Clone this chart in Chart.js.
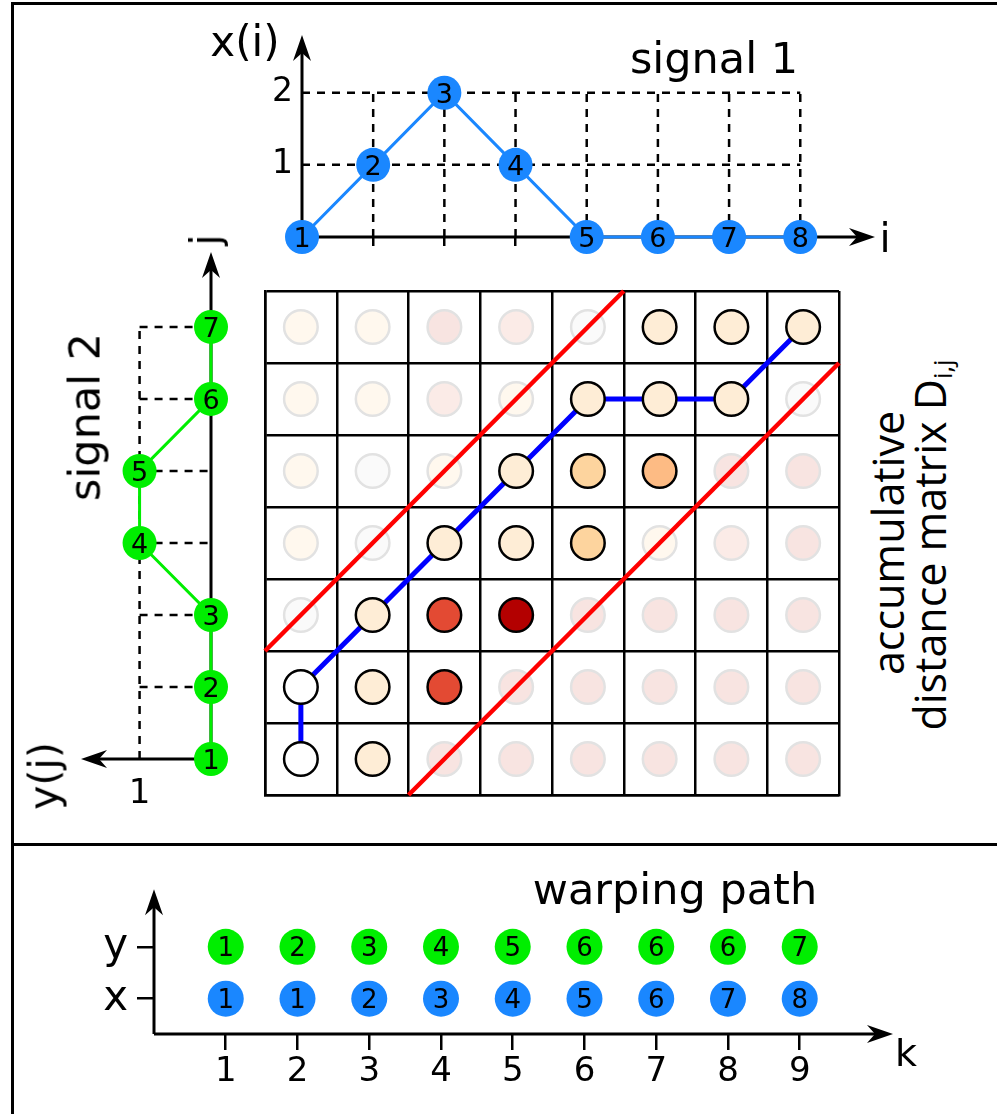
<!DOCTYPE html>
<html>
<head>
<meta charset="utf-8">
<title>Dynamic time warping</title>
<script src="https://cdn.jsdelivr.net/npm/chart.js@4.4.1/dist/chart.umd.min.js"></script>
<style>
  html, body { margin: 0; padding: 0; background: #fff; }
  body { position: relative; width: 997px; height: 1114px; overflow: hidden; font-family: "DejaVu Sans", sans-serif; color: #000; }
  canvas { position: absolute; }
  .rule { position: absolute; background: #000; }
  .txt { position: absolute; white-space: nowrap; line-height: 1; transform: translate(-50%, -50%); }
  .rot { transform: translate(-50%, -50%) rotate(-90deg); }
  .os { font-family: "Open Sans", sans-serif; }
  sub { font-size: 60%; vertical-align: -0.25em; }
</style>
</head>
<body>
<div class="rule" style="left:11px;top:2px;width:3px;height:1112px"></div>
<div class="rule" style="left:11px;top:2px;width:986px;height:3px"></div>
<div class="rule" style="left:11px;top:843px;width:986px;height:3px"></div>

<canvas id="sig1"></canvas>
<canvas id="sig2"></canvas>
<canvas id="matrix"></canvas>
<canvas id="path"></canvas>

<div class="txt" style="left:245px;top:42px;font-size:42px">x(i)</div>
<div class="txt" style="left:714px;top:58px;font-size:43px">signal 1</div>
<div class="txt" style="left:885px;top:238px;font-size:40px">i</div>
<div class="txt rot" style="left:205px;top:240px;font-size:40px">j</div>
<div class="txt rot" style="left:85px;top:417px;font-size:43px">signal 2</div>
<div class="txt rot" style="left:44px;top:776px;font-size:41px">y(j)</div>
<div class="txt rot os" style="left:887px;top:543px;font-size:43px">accumulative</div>
<div class="txt rot os" style="left:932px;top:545px;font-size:43px">distance matrix D<sub>i,j</sub></div>
<div class="txt" style="left:675px;top:889px;font-size:43px">warping path</div>
<div class="txt" style="left:906px;top:1053px;font-size:38px">k</div>

<script>
// signal 1 (top plot)
const sig1Index = [1, 2, 3, 4, 5, 6, 7, 8];
const sig1Values = [0, 1, 2, 1, 0, 0, 0, 0];
const sig1Ticks = [1, 2];

// signal 2 (left plot, drawn sideways)
const sig2Index = [1, 2, 3, 4, 5, 6, 7];
const sig2Values = [0, 0, 0, 1, 1, 0, 0];
const sig2Ticks = [1];

// accumulative distance matrix colour level, rows j = 1..7 (bottom up), cols i = 1..8
const cellLevel = [
    [0, 1, 4, 4, 4, 4, 4, 4],
    [0, 1, 4, 4, 4, 4, 4, 4],
    [0, 1, 4, 5, 4, 4, 4, 4],
    [1, 0, 1, 1, 2, 1, 3, 4],
    [1, 0, 1, 1, 2, 3, 4, 4],
    [1, 1, 3, 1, 1, 1, 1, 0],
    [1, 1, 4, 3, 0, 1, 1, 1]
];
// 1 = inside the warping window (solid), 0 = outside (faded)
const cellInWindow = [
    [1, 1, 0, 0, 0, 0, 0, 0],
    [1, 1, 1, 0, 0, 0, 0, 0],
    [0, 1, 1, 1, 0, 0, 0, 0],
    [0, 0, 1, 1, 1, 0, 0, 0],
    [0, 0, 0, 1, 1, 1, 0, 0],
    [0, 0, 0, 0, 1, 1, 1, 0],
    [0, 0, 0, 0, 0, 1, 1, 1]
];
// window borders (red lines) in cell units [i, j]
const bandUpper = [[0.5, 2.5], [5.5, 7.5]];
const bandLower = [[2.5, 0.5], [8.5, 6.5]];

// warping path
const pathK = [1, 2, 3, 4, 5, 6, 7, 8, 9];
const pathX = [1, 1, 2, 3, 4, 5, 6, 7, 8];
const pathY = [1, 2, 3, 4, 5, 6, 6, 6, 7];
const pathRowTicks = [1, 2];
const pathRowLabels = ['x', 'y'];

const BLUE = '#1a87ff';
const GREEN = '#00ee00';
const levelColors = ['#ffffff', '#feedd6', '#fdd49e', '#fdbb84', '#e34a33', '#b30000'];
const faintColors = ['#fafafa', '#fff8ee', '#fdf1ec', '#fbebe7', '#f8e4e1'];
const FONT = '"DejaVu Sans"';

// axis lines with arrow heads, drawn under the points
const arrowAxes = {
    id: 'arrowAxes',
    beforeDatasetsDraw(chart, args, opts) {
        const ctx = chart.ctx, xs = chart.scales.x, ys = chart.scales.y;
        (opts.list || []).forEach(a => {
            let x0, y0, x1, y1;
            if (a.dir === 'x') {
                y0 = y1 = ys.getPixelForValue(a.at);
                x0 = xs.getPixelForValue(a.from);
                x1 = xs.getPixelForValue(xs.max);
            } else {
                x0 = x1 = xs.getPixelForValue(a.at);
                y0 = ys.getPixelForValue(a.from);
                y1 = ys.getPixelForValue(ys.max);
            }
            const ang = Math.atan2(y1 - y0, x1 - x0);
            ctx.save();
            ctx.strokeStyle = '#000';
            ctx.lineWidth = 3;
            ctx.beginPath();
            ctx.moveTo(x0, y0);
            ctx.lineTo(x1 - 12 * Math.cos(ang), y1 - 12 * Math.sin(ang));
            ctx.stroke();
            ctx.translate(x1, y1);
            ctx.rotate(ang);
            ctx.beginPath();
            ctx.moveTo(0, 0);
            ctx.lineTo(-26, -9);
            ctx.lineTo(-18, 0);
            ctx.lineTo(-26, 9);
            ctx.closePath();
            ctx.fillStyle = '#000';
            ctx.fill();
            ctx.restore();
        });
    }
};

// index numbers written inside the circles
const pointNumbers = {
    id: 'pointNumbers',
    afterDatasetsDraw(chart) {
        const ctx = chart.ctx;
        chart.data.datasets.forEach((ds, di) => {
            if (!ds.numbers) return;
            const size = ds.numberSize || 26;
            ctx.save();
            ctx.font = size + 'px ' + FONT;
            ctx.fillStyle = '#000';
            ctx.textAlign = 'center';
            ctx.textBaseline = 'alphabetic';
            chart.getDatasetMeta(di).data.forEach((pt, k) => {
                ctx.fillText(String(ds.numbers[k]), pt.x, pt.y + size * 0.365);
            });
            ctx.restore();
        });
    }
};

Chart.register(arrowAxes, pointNumbers);

function dashed(points) {
    return {
        data: points, showLine: true, borderColor: '#000', borderWidth: 2.5,
        borderDash: [8, 7], pointRadius: 0, clip: false, order: 5
    };
}

function fixTicks(values) {
    return s => { s.ticks = values.map(v => ({ value: v })); };
}

// place a canvas so that its chart area lands on the given page box;
// the left / bottom margins are taken by the y / x scales (their labels live there)
function makeChart(id, area, pad, config) {
    const c = document.getElementById(id);
    c.width = area.r - area.l + pad.left + pad.right;
    c.height = area.b - area.t + pad.top + pad.bottom;
    c.style.left = (area.l - pad.left) + 'px';
    c.style.top = (area.t - pad.top) + 'px';
    c.style.width = c.width + 'px';
    c.style.height = c.height + 'px';
    const sc = config.options.scales;
    sc.x.afterFit = s => { s.height = pad.bottom; };
    sc.y.afterFit = s => { s.width = pad.left; };
    config.options = Object.assign({
        responsive: false,
        animation: false,
        events: [],
        layout: { autoPadding: false, padding: { left: 0, bottom: 0, top: pad.top, right: pad.right } }
    }, config.options);
    config.options.plugins = Object.assign({
        legend: { display: false },
        tooltip: { enabled: false }
    }, config.options.plugins);
    return new Chart(c, config);
}

const noGrid = { display: false, drawTicks: false };
const noBorder = { display: false };

// ---- signal 1 ----
const sig1Guides = [];
sig1Ticks.forEach(t => sig1Guides.push(dashed([
    { x: sig1Index[0], y: t }, { x: sig1Index[sig1Index.length - 1], y: t }])));
sig1Index.slice(1).forEach(i => sig1Guides.push(dashed([
    { x: i, y: 0 }, { x: i, y: Math.max(...sig1Ticks) }])));

makeChart('sig1', { l: 302, r: 875, t: 35, b: 237 }, { left: 50, right: 30, top: 30, bottom: 30 }, {
    type: 'scatter',
    data: {
        datasets: [{
            data: sig1Index.map((v, k) => ({ x: v, y: sig1Values[k] })),
            showLine: true, borderColor: BLUE, borderWidth: 3,
            pointRadius: 17, pointBackgroundColor: BLUE, pointBorderWidth: 0,
            numbers: sig1Index, numberSize: 27, clip: false, order: 0
        }, ...sig1Guides]
    },
    options: {
        scales: {
            x: {
                type: 'linear', min: 1, max: 9.05,
                afterBuildTicks: fixTicks(sig1Index),
                ticks: { display: false },
                grid: { display: true, drawOnChartArea: false, drawTicks: true, tickLength: 9, color: '#000', lineWidth: 2.5 },
                border: noBorder
            },
            y: {
                type: 'linear', min: 0, max: 2.8,
                afterBuildTicks: fixTicks(sig1Ticks),
                ticks: { color: '#000', padding: 9, font: { family: FONT, size: 33 } },
                grid: noGrid, border: noBorder
            }
        },
        plugins: { arrowAxes: { list: [{ dir: 'x', at: 0, from: 1 }, { dir: 'y', at: 1, from: 0 }] } }
    }
});

// ---- signal 2 ----
const sig2Guides = [];
sig2Ticks.forEach(t => sig2Guides.push(dashed([
    { x: t, y: sig2Index[0] }, { x: t, y: sig2Index[sig2Index.length - 1] }])));
sig2Index.slice(1).forEach(j => sig2Guides.push(dashed([
    { x: Math.max(...sig2Ticks), y: j }, { x: 0, y: j }])));

makeChart('sig2', { l: 81, r: 211, t: 252, b: 759 }, { left: 30, right: 30, top: 30, bottom: 70 }, {
    type: 'scatter',
    data: {
        datasets: [{
            data: sig2Index.map((j, k) => ({ x: sig2Values[k], y: j })),
            showLine: true, borderColor: GREEN, borderWidth: 3,
            pointRadius: 17, pointBackgroundColor: GREEN, pointBorderWidth: 0,
            numbers: sig2Index, numberSize: 27, clip: false, order: 0
        }, ...sig2Guides]
    },
    options: {
        scales: {
            x: {
                type: 'linear', min: 0, max: 1.82, reverse: true,
                afterBuildTicks: fixTicks(sig2Ticks),
                ticks: { color: '#000', padding: 15, font: { family: FONT, size: 34 } },
                grid: noGrid, border: noBorder
            },
            y: {
                type: 'linear', min: 1, max: 8.04,
                ticks: { display: false },
                grid: noGrid, border: noBorder
            }
        },
        plugins: { arrowAxes: { list: [{ dir: 'x', at: 1, from: 0 }, { dir: 'y', at: 0, from: 1 }] } }
    }
});

// ---- accumulative distance matrix ----
const cols = cellLevel[0].map((_, i) => i + 1);
const rows = cellLevel.map((_, j) => j + 1);
const solidPts = [], solidFill = [], faintPts = [], faintFill = [];
rows.forEach((j, r) => cols.forEach((i, c) => {
    if (cellInWindow[r][c]) {
        solidPts.push({ x: i, y: j });
        solidFill.push(levelColors[cellLevel[r][c]]);
    } else {
        faintPts.push({ x: i, y: j });
        faintFill.push(faintColors[Math.min(cellLevel[r][c], 4)]);
    }
}));

makeChart('matrix', { l: 265, r: 839, t: 291, b: 795 }, { left: 10, right: 10, top: 10, bottom: 10 }, {
    type: 'scatter',
    data: {
        datasets: [{
            data: solidPts, pointRadius: 16.8, pointBackgroundColor: solidFill,
            pointBorderColor: '#000', pointBorderWidth: 2.5, clip: false, order: 0
        }, {
            data: pathX.map((x, k) => ({ x: x, y: pathY[k] })),
            showLine: true, borderColor: '#0000ff', borderWidth: 5, pointRadius: 0, order: 1
        }, {
            data: bandUpper.map(p => ({ x: p[0], y: p[1] })),
            showLine: true, borderColor: '#ff0000', borderWidth: 4.5, pointRadius: 0, clip: false, order: 2
        }, {
            data: bandLower.map(p => ({ x: p[0], y: p[1] })),
            showLine: true, borderColor: '#ff0000', borderWidth: 4.5, pointRadius: 0, clip: false, order: 2
        }, {
            data: faintPts, pointRadius: 16.8, pointBackgroundColor: faintFill,
            pointBorderColor: '#e2e2e2', pointBorderWidth: 2.5, clip: false, order: 3
        }]
    },
    options: {
        scales: {
            x: {
                type: 'linear', min: 0.5, max: cols.length + 0.5,
                afterBuildTicks: fixTicks([0.5, ...cols.map(i => i + 0.5)]),
                ticks: { display: false },
                grid: { color: '#000', lineWidth: 2.5, drawTicks: false },
                border: { display: true, color: '#000', width: 2.5 }
            },
            y: {
                type: 'linear', min: 0.5, max: rows.length + 0.5,
                afterBuildTicks: fixTicks([0.5, ...rows.map(j => j + 0.5)]),
                ticks: { display: false },
                grid: { color: '#000', lineWidth: 2.5, drawTicks: false },
                border: { display: true, color: '#000', width: 2.5 }
            }
        }
    }
});

// ---- warping path ----
makeChart('path', { l: 154, r: 893, t: 885, b: 1034 }, { left: 80, right: 30, top: 30, bottom: 70 }, {
    type: 'scatter',
    data: {
        datasets: [{
            data: pathK.map(k => ({ x: k, y: pathRowTicks[1] })),
            pointRadius: 18, pointBackgroundColor: GREEN, pointBorderWidth: 0,
            numbers: pathY, numberSize: 26, clip: false
        }, {
            data: pathK.map(k => ({ x: k, y: pathRowTicks[0] })),
            pointRadius: 18, pointBackgroundColor: BLUE, pointBorderWidth: 0,
            numbers: pathX, numberSize: 26, clip: false
        }]
    },
    options: {
        scales: {
            x: {
                type: 'linear', min: 0, max: 10.3,
                afterBuildTicks: fixTicks(pathK),
                ticks: { color: '#000', padding: 2, font: { family: FONT, size: 34 } },
                grid: { display: true, drawOnChartArea: false, drawTicks: true, tickLength: 16, color: '#000', lineWidth: 2.5 },
                border: noBorder
            },
            y: {
                type: 'linear', min: 0.32, max: 3.11,
                afterBuildTicks: fixTicks(pathRowTicks),
                ticks: {
                    color: '#000', padding: 9, font: { family: FONT, size: 42 },
                    callback: v => pathRowLabels[pathRowTicks.indexOf(v)]
                },
                grid: { display: true, drawOnChartArea: false, drawTicks: true, tickLength: 17, color: '#000', lineWidth: 2.5 },
                border: noBorder
            }
        },
        plugins: { arrowAxes: { list: [{ dir: 'x', at: 0.32, from: 0 }, { dir: 'y', at: 0, from: 0.32 }] } }
    }
});
</script>
</body>
</html>
